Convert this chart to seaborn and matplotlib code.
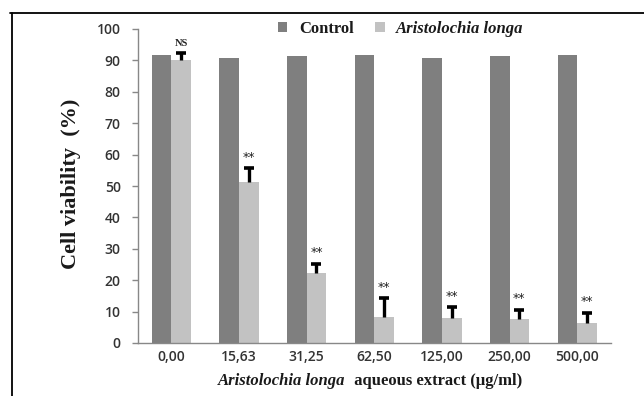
import numpy as np
import pandas as pd
import matplotlib
matplotlib.use("Agg")
import matplotlib.pyplot as plt
from matplotlib.lines import Line2D
from matplotlib.patches import Patch
import seaborn as sns

# ---- data ----
concentrations = ["0,00", "15,63", "31,25", "62,50", "125,00", "250,00", "500,00"]
control = [91.8, 90.8, 91.3, 91.8, 90.7, 91.3, 91.8]
extract = [90.1, 51.2, 22.2, 8.4, 8.0, 7.5, 6.3]
extract_err = [2.2, 4.4, 3.0, 5.8, 3.4, 3.0, 3.3]
significance = ["NS", "**", "**", "**", "**", "**", "**"]
series_names = ["Control", "Aristolochia longa"]

df = pd.DataFrame({
    "conc": concentrations * 2,
    "value": control + extract,
    "group": [series_names[0]] * len(concentrations) + [series_names[1]] * len(concentrations),
})

sns.set_theme(style="white")
plt.rcParams["font.family"] = ["DejaVu Sans"]

dark = "#7f7f7f"
light = "#c2c2c2"

fig = plt.figure(figsize=(6.44, 3.96), dpi=100)
ax = fig.add_axes([137.5 / 644, 1 - 343 / 396, (611 - 137.5) / 644, (343 - 29) / 396])

sns.barplot(data=df, x="conc", y="value", hue="group", order=concentrations,
            hue_order=series_names, palette=[dark, light], width=0.58,
            errorbar=None, saturation=1, ax=ax, legend=False,
            edgecolor="none", linewidth=0)

# upper-only error bars + significance marks on the extract bars
ext_patches = ax.containers[1]
for p, v, e, s in zip(ext_patches, extract, extract_err, significance):
    xc = p.get_x() + p.get_width() / 2
    ax.vlines(xc, v, v + e, color="black", lw=2.4, zorder=5)
    ax.plot([xc], [v + e], marker="_", markersize=7, mew=2.6, color="black", zorder=5)
    if s == "NS":
        ax.annotate(s, (xc, v + e), xytext=(0, 7), textcoords="offset points",
                    ha="center", va="center", fontsize=7.5, fontweight="bold",
                    family="Liberation Serif", color="#222222")
    else:
        ax.annotate(s, (xc, v + e), xytext=(0, 8), textcoords="offset points",
                    ha="center", va="center", fontsize=9, family="DejaVu Sans",
                    color="#222222")

ax.set_ylim(0, 100)
ax.set_yticks(np.arange(0, 101, 10))
ax.set_xlim(-0.5, len(concentrations) - 0.5)

# ticks
tick_font = dict(family="Open Sans", weight="semibold", size=10)
ax.set_yticklabels([str(t) for t in range(0, 101, 10)], **tick_font, color="#333333")
ax.set_xticks(range(len(concentrations)))
ax.set_xticklabels(concentrations, **tick_font, color="#333333")
ax.tick_params(axis="x", which="major", length=0, pad=5)
ax.set_xticks(np.arange(-0.5, len(concentrations), 1), minor=True)
ax.tick_params(axis="x", which="minor", length=5, width=1, color="#888888", direction="out")
ax.tick_params(axis="y", which="major", length=4, width=1, color="#888888",
               direction="out", pad=8, left=True)

for side in ["top", "right"]:
    ax.spines[side].set_visible(False)
for side in ["left", "bottom"]:
    ax.spines[side].set_color("#888888")
    ax.spines[side].set_linewidth(1)

ax.set_xlabel("")
ax.set_ylabel("")

# y label
fig.text(71 / 644, 1 - 184 / 396, "Cell viability  (%)", rotation=90, ha="center",
         va="center", family="Liberation Serif", weight="bold", size=16, color="#1a1a1a")

# x label (mixed italic / regular)
xl_y = 1 - 381 / 396
t1 = fig.text(0, xl_y, "Aristolochia longa", family="Liberation Serif", weight="bold",
              style="italic", size=12, va="center", color="#1a1a1a")
t2 = fig.text(0, xl_y, "  aqueous extract (\u00b5g/ml)", family="Liberation Serif",
              weight="bold", size=12, va="center", color="#1a1a1a")
fig.canvas.draw()
r = fig.canvas.get_renderer()
w1 = t1.get_window_extent(r).width
w2 = t2.get_window_extent(r).width
total = w1 + w2
cx = 370
x0 = cx - total / 2
t1.set_x(x0 / 644)
t2.set_x((x0 + w1) / 644)

# legend
handles = [Patch(facecolor=dark, edgecolor="none"), Patch(facecolor=light, edgecolor="none")]
leg = fig.legend(handles, series_names, loc="center", bbox_to_anchor=(401 / 644, 1 - 29 / 396),
                 ncol=2, frameon=False, handlelength=0.55, handleheight=0.55,
                 handletextpad=0.7, columnspacing=1.3,
                 prop=dict(family="Liberation Serif", weight="bold", size=12))
leg.get_texts()[1].set_style("italic")
for t in leg.get_texts():
    t.set_color("#1a1a1a")

# outer frame (top and left)
fig.add_artist(Line2D([10 / 644, 1], [1 - 13 / 396, 1 - 13 / 396], color="black", lw=1.3,
                      transform=fig.transFigure))
fig.add_artist(Line2D([12 / 644, 12 / 644], [0, 1 - 13 / 396], color="black", lw=1.3,
                      transform=fig.transFigure))

fig.savefig("out.png", dpi=100, facecolor="white")
